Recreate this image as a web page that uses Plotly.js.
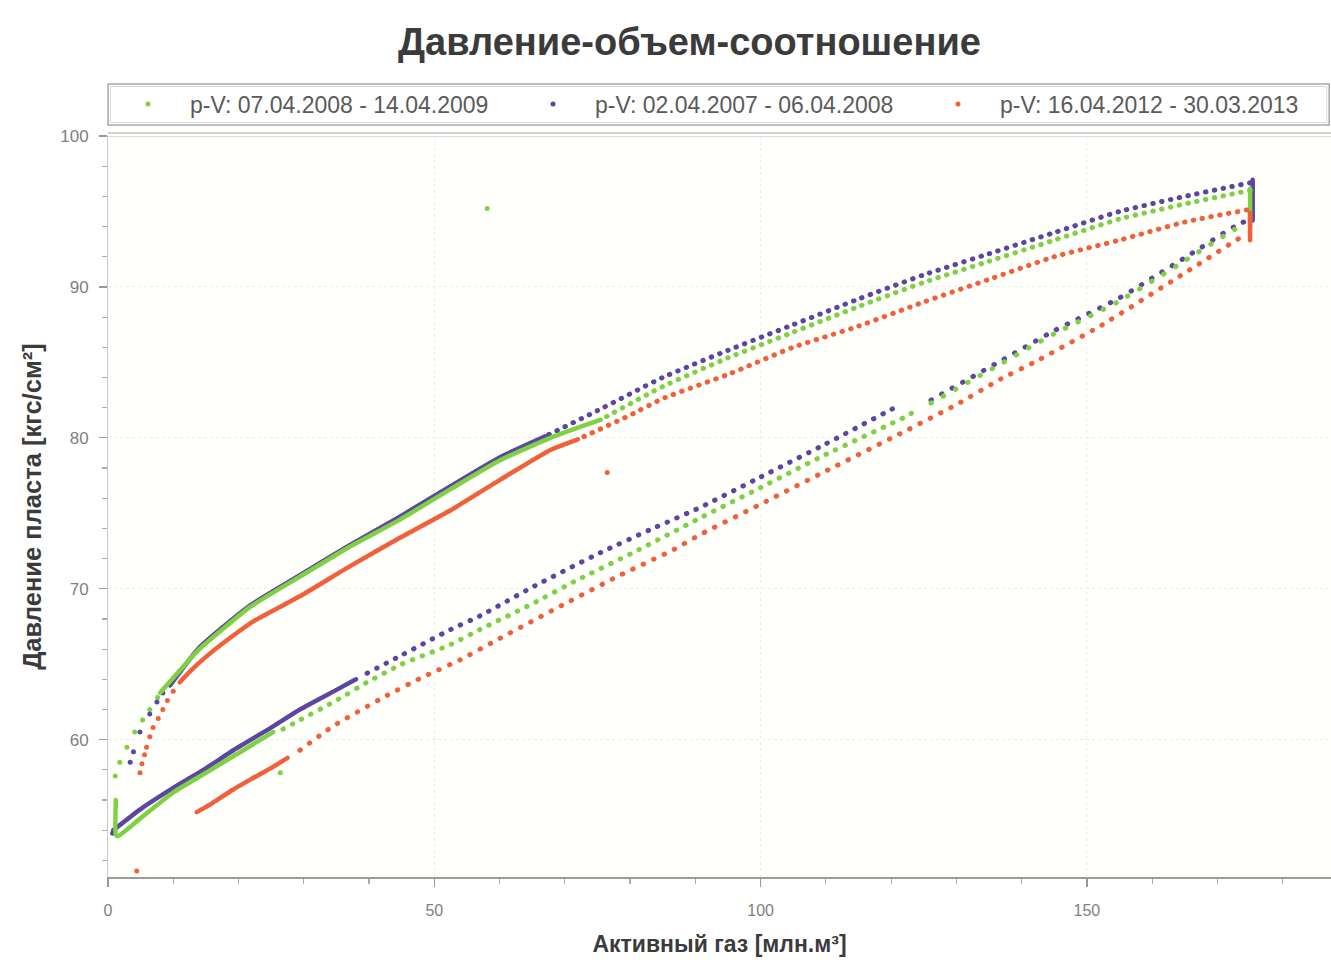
<!DOCTYPE html>
<html>
<head>
<meta charset="utf-8">
<script src="https://cdn.plot.ly/plotly-3.0.1.min.js"></script>
<style>
html,body{margin:0;padding:0;background:#ffffff;}
#chart{width:1331px;height:960px;}
#chart .scatterlayer .js-line{stroke-linecap:round !important;stroke-linejoin:round !important;}
</style>
</head>
<body>
<div id="chart"></div>
<script>
// ---------- Series names ----------
const seriesNames = [
  "p-V: 07.04.2008 - 14.04.2009",
  "p-V: 02.04.2007 - 06.04.2008",
  "p-V: 16.04.2012 - 30.03.2013"
];

// ---------- Green: 07.04.2008 - 14.04.2009 ----------
const gDotsX = [1.1, 1.8, 2.9, 4.1, 5.3, 6.4, 7.6, 26.4, 58.1];
const gDotsY = [57.6, 58.5, 59.5, 60.5, 61.3, 62.0, 62.8, 57.8, 95.2];
const gDenseLowX = [1.2, 1.2, 1.5, 5, 10, 15, 19.2, 25.3];
const gDenseLowY = [56.0, 53.7, 53.6, 54.8, 56.5, 57.8, 58.9, 60.5];
const gSparseLowX = [26.8, 29.4, 35, 39.7, 45, 52.5, 57, 65, 72, 80.5, 90.8, 100, 110, 122.2, 124];
const gSparseLowY = [60.7, 61.3, 62.6, 63.8, 65.0, 66.3, 67.3, 69.0, 70.6, 72.4, 74.7, 76.7, 78.9, 81.4, 81.85];
const gSparseLow2X = [126.1, 136.8, 145, 154.7, 164.9, 172.6, 174.5];
const gSparseLow2Y = [82.3, 84.9, 86.9, 89.0, 91.7, 93.8, 94.1];
const gVertX = [175.0, 175.0];
const gVertY = [94.0, 96.5];
const gSparseUpX = [175, 165, 155, 145, 135, 125, 115, 105, 95, 85, 75.5];
const gSparseUpY = [96.4, 95.5, 94.5, 93.1, 91.7, 90.3, 88.7, 87.0, 85.3, 83.4, 81.2];
const gDenseUpX = [75.5, 67.8, 60, 52.5, 44.8, 37.1, 29.4, 21.8, 14, 9, 8];
const gDenseUpY = [81.2, 80.0, 78.5, 76.6, 74.6, 72.8, 70.8, 68.8, 66.0, 63.6, 63.1];

// ---------- Purple: 02.04.2007 - 06.04.2008 ----------
const pDotsX = [8.4, 7.5, 6.4, 4.9, 3.9, 3.4, 0.7];
const pDotsY = [63.1, 62.5, 61.7, 60.5, 59.2, 58.5, 53.8];
const pDenseLowX = [0.8, 5, 10, 15, 19.2, 25, 29.4, 35, 38];
const pDenseLowY = [54.0, 55.4, 56.8, 58.1, 59.3, 60.8, 62.0, 63.3, 64.0];
const pSparseLowX = [39.7, 45, 52.5, 57, 65, 75.5, 83, 90.8, 100, 110, 121];
const pSparseLowY = [64.4, 65.6, 67.3, 68.2, 70.1, 72.4, 73.9, 75.4, 77.4, 79.6, 82.1];
const pSparseLow2X = [126.1, 136.8, 145, 154.7, 164.9, 172.6, 174.5];
const pSparseLow2Y = [82.5, 85.1, 87.1, 89.2, 91.9, 94.0, 94.4];
const pVertX = [175.4, 175.4];
const pVertY = [94.4, 97.1];
const pSparseUpX = [175, 165, 155, 145, 135, 125, 115, 105, 95, 85, 75, 67];
const pSparseUpY = [96.9, 96.0, 95.0, 93.6, 92.2, 90.8, 89.2, 87.5, 85.8, 84.0, 81.8, 80.1];
const pDenseUpX = [67, 60, 52.5, 44.8, 37.1, 29.4, 21.8, 14, 9.5];
const pDenseUpY = [80.1, 78.7, 76.8, 74.8, 72.9, 70.9, 68.9, 66.1, 63.6];

// ---------- Red: 16.04.2012 - 30.03.2013 ----------
const rDotsX = [10.0, 9.1, 8.4, 7.7, 6.9, 6.4, 5.9, 5.6, 5.2, 4.9, 76.5, 4.4];
const rDotsY = [63.2, 62.6, 62.0, 61.4, 60.8, 60.2, 59.5, 59.0, 58.4, 57.8, 77.7, 51.3];
const rDenseLowX = [13.6, 16, 19.2, 22, 25.3, 27.5];
const rDenseLowY = [55.2, 55.8, 56.7, 57.4, 58.2, 58.8];
const rSparseLowX = [29.4, 34.5, 42.2, 48, 54, 60, 70, 78, 86.7, 90.8, 100, 110, 121.5, 130, 136.8, 141.9, 152, 164.9, 173.6];
const rSparseLowY = [59.3, 60.9, 62.8, 64.1, 65.3, 66.7, 69.0, 70.8, 72.6, 73.6, 75.6, 77.8, 80.3, 82.2, 83.9, 85.0, 87.4, 90.9, 93.3];
const rVertX = [175.0, 175.0];
const rVertY = [93.1, 94.9];
const rSparseUpX = [174.5, 165, 155, 145, 135, 125, 115, 105, 95, 85, 80, 72.5];
const rSparseUpY = [95.1, 94.3, 93.1, 92.0, 90.5, 89.0, 87.4, 86.0, 84.2, 82.6, 81.5, 80.0];
const rDenseUpX = [72, 67.8, 60, 52.5, 44.8, 37.1, 29.4, 22.5, 19.2, 15.6, 13, 11];
const rDenseUpY = [79.9, 79.2, 77.2, 75.2, 73.4, 71.5, 69.5, 67.9, 66.9, 65.7, 64.7, 63.8];

// ---------- Axis ticks ----------
const xTickVals = [0, 50, 100, 150];
const yTickVals = [60, 70, 80, 90, 100];

// ---------- Styles ----------
const GREEN = "#80d043";
const PURPLE = "#5b47a0";
const RED = "#f1603b";

function dots(x, y, color, name, show, group) {
  return {x: x, y: y, type: "scatter", mode: "markers", name: name, legendgroup: group,
    showlegend: show, marker: {color: color, size: 5}, hoverinfo: "skip"};
}
function solid(x, y, color, group) {
  return {x: x, y: y, type: "scatter", mode: "lines", legendgroup: group, showlegend: false,
    line: {color: color, width: 4.5, shape: "spline", smoothing: 0.5}, hoverinfo: "skip"};
}
function dotted(x, y, color, group, period) {
  return {x: x, y: y, type: "scatter", mode: "lines", legendgroup: group, showlegend: false,
    line: {color: color, width: 5, dash: "0.5px," + (period - 0.5) + "px", shape: "spline", smoothing: 0.5}, hoverinfo: "skip"};
}

const traces = [
  // legend-bearing dot traces (order: green, purple, red)
  dots(gDotsX, gDotsY, GREEN, seriesNames[0], true, "g"),
  dots(pDotsX, pDotsY, PURPLE, seriesNames[1], true, "p"),
  dots(rDotsX, rDotsY, RED, seriesNames[2], true, "r"),
  // purple
  solid(pDenseLowX, pDenseLowY, PURPLE, "p"),
  dotted(pSparseLowX, pSparseLowY, PURPLE, "p", 10.5),
  dotted(pSparseLow2X, pSparseLow2Y, PURPLE, "p", 12),
  solid(pVertX, pVertY, PURPLE, "p"),
  dotted(pSparseUpX, pSparseUpY, PURPLE, "p", 9),
  solid(pDenseUpX, pDenseUpY, PURPLE, "p"),
  // green
  solid(gDenseLowX, gDenseLowY, GREEN, "g"),
  dotted(gSparseLowX, gSparseLowY, GREEN, "g", 10.5),
  dotted(gSparseLow2X, gSparseLow2Y, GREEN, "g", 14),
  solid(gVertX, gVertY, GREEN, "g"),
  dotted(gSparseUpX, gSparseUpY, GREEN, "g", 9),
  solid(gDenseUpX, gDenseUpY, GREEN, "g"),
  // red
  solid(rDenseLowX, rDenseLowY, RED, "r"),
  dotted(rSparseLowX, rSparseLowY, RED, "r", 11.5),
  solid(rVertX, rVertY, RED, "r"),
  dotted(rSparseUpX, rSparseUpY, RED, "r", 9),
  solid(rDenseUpX, rDenseUpY, RED, "r")
];

const FONT = "Liberation Sans, Arial, sans-serif";
const PLOT_L = 108, PLOT_T = 136, PLOT_B = 877, H = 960, W = 1331;
const ph = PLOT_B - PLOT_T;
function py(px) { return (PLOT_B - px) / ph; }

const layout = {
  width: W, height: H,
  margin: {l: PLOT_L, r: 0, t: PLOT_T, b: H - PLOT_B, pad: 0},
  paper_bgcolor: "#ffffff",
  plot_bgcolor: "#fffffc",
  font: {family: FONT, color: "#555"},
  title: {text: "<b>Давление-объем-соотношение</b>", x: 0.518, xanchor: "center",
    y: 1 - 42 / H, yanchor: "middle", yref: "container",
    font: {family: FONT, size: 38, color: "#3b3b3b"}},
  showlegend: true,
  legend: {orientation: "h", x: -2 / (W - PLOT_L), xanchor: "left", y: py(104), yanchor: "middle",
    bgcolor: "rgba(0,0,0,0)", borderwidth: 0, entrywidth: 316, entrywidthmode: "pixels",
    itemwidth: 74, font: {family: FONT, size: 23, color: "#5a5a5a"}, traceorder: "normal"},
  xaxis: {range: [0, 187.4], tickvals: xTickVals, ticktext: xTickVals.map(String),
    showline: true, linecolor: "#9a9a9a", linewidth: 1.5,
    ticks: "outside", ticklen: 8, tickcolor: "#999", tickwidth: 1.2,
    minor: {dtick: 10, tick0: 0, ticks: "outside", ticklen: 5, tickcolor: "#aaa", showgrid: false},
    showgrid: true, gridcolor: "#ececec", griddash: "dot", gridwidth: 1,
    zeroline: false, ticklabelstandoff: 10,
    tickfont: {family: FONT, size: 16, color: "#808080"},
    title: {text: "<b>Активный газ [млн.м³]</b>", standoff: 18,
      font: {family: FONT, size: 23, color: "#3b3b3b"}}},
  yaxis: {range: [50.9, 100], tickvals: yTickVals, ticktext: yTickVals.map(String),
    showline: true, linecolor: "#c8c8c8", linewidth: 1,
    ticks: "outside", ticklen: 8, tickcolor: "#999", tickwidth: 1.2,
    minor: {dtick: 2, tick0: 50, ticks: "outside", ticklen: 5, tickcolor: "#aaa", showgrid: false},
    showgrid: true, gridcolor: "#ececec", griddash: "dot", gridwidth: 1,
    zeroline: false, ticklabelstandoff: 7,
    tickfont: {family: FONT, size: 17, color: "#808080"},
    title: {text: "<b>Давление пласта [кгс/см²]</b>", standoff: 11,
      font: {family: FONT, size: 25.5, color: "#3b3b3b"}}},
  shapes: [
    // legend frame (double line)
    {type: "rect", xref: "paper", yref: "paper", x0: 0, x1: 0.9985, y0: py(125), y1: py(84),
      line: {color: "#a8a8a8", width: 1.5}},
    {type: "rect", xref: "paper", yref: "paper", x0: 0.002, x1: 0.9965, y0: py(122.5), y1: py(86.5),
      line: {color: "#d8d8d8", width: 1}},
    // top border of plot (double)
    {type: "line", xref: "paper", yref: "paper", x0: 0, x1: 1, y0: py(133), y1: py(133),
      line: {color: "#c4c4c4", width: 1.5}},
    {type: "line", xref: "paper", yref: "paper", x0: 0, x1: 1, y0: py(136.5), y1: py(136.5),
      line: {color: "#dcdcdc", width: 1}}
  ]
};

Plotly.newPlot("chart", traces, layout, {displayModeBar: false, staticPlot: true});
</script>
</body>
</html>
